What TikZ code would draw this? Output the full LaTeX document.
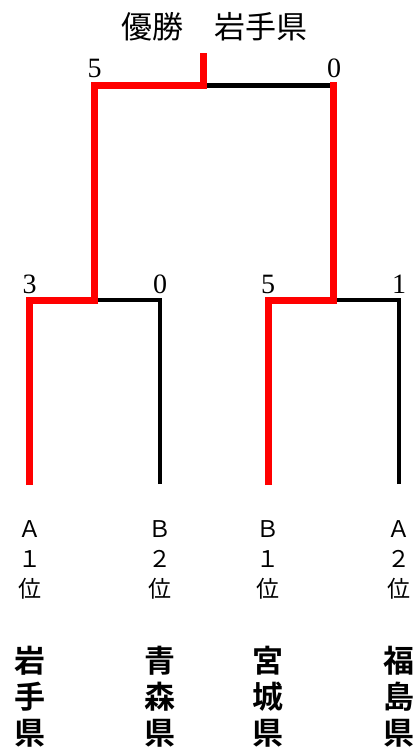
\documentclass[tikz,border=0pt]{standalone}
\usepackage{fontspec}
\setmainfont{Liberation Serif}
\newfontfamily\jp{Noto Sans CJK JP}[BoldFont={Noto Sans CJK JP Bold}]
\begin{document}
\begin{tikzpicture}[x=1pt,y=-1pt,
  winline/.style={red,line width=7pt,line join=miter,line cap=butt},
  loseline/.style={black,line width=4.7pt,line join=miter},
  score/.style={font=\fontsize{28}{28}\selectfont,anchor=base,inner sep=0pt},
  rank/.style={font=\jp\fontsize{23}{30}\selectfont,align=center,inner sep=0pt},
  pref/.style={font=\jp\bfseries\fontsize{31}{36}\selectfont,align=center,inner sep=0pt},
  title/.style={font=\jp\fontsize{31}{31}\selectfont,inner sep=0pt}]
\useasboundingbox (0,0) rectangle (418,751);
% coordinates
\coordinate (l1) at (29.5,485);
\coordinate (l2) at (160,484);
\coordinate (l3) at (268,485);
\coordinate (l4) at (399,484);
\coordinate (j1a) at (29.5,300);
\coordinate (j1b) at (160,300);
\coordinate (j2a) at (268,300);
\coordinate (j2b) at (399,300);
\coordinate (s1) at (94,300);
\coordinate (s2) at (333.5,300);
\coordinate (f1) at (94,85.5);
\coordinate (f2) at (333.5,85.5);
\coordinate (fm) at (203,85.5);
\coordinate (top) at (203,53);
% losing lines
\draw[loseline] (l2) -- (j1b) -- (s1);
\draw[loseline] (l4) -- (j2b) -- (s2);
\draw[loseline] (fm) -- (f2);
% winning lines
\draw[winline] (l1) -- (j1a) -- (s1) -- (f1) -- (fm) -- (top);
\draw[winline] (l3) -- (j2a) -- (s2) -- (333.5,82);
% scores
\node[score] (sc1) at (94.5,78) {5};
\node[score] (sc2) at (334,78) {0};
\node[score] (sc3) at (29.5,293) {3};
\node[score] (sc4) at (160,293) {0};
\node[score] (sc5) at (268,293) {5};
\node[score] (sc6) at (399,293) {1};
% title
\node[title] (ttl) at (214,27) {優勝　岩手県};
% ranks
\node[rank] (r1) at (29.5,560) {Ａ\\１\\位};
\node[rank] (r2) at (160,560) {Ｂ\\２\\位};
\node[rank] (r3) at (268,560) {Ｂ\\１\\位};
\node[rank] (r4) at (399,560) {Ａ\\２\\位};
% prefectures
\node[pref] (p1) at (29.5,697) {岩\\手\\県};
\node[pref] (p2) at (160,697) {青\\森\\県};
\node[pref] (p3) at (268,697) {宮\\城\\県};
\node[pref] (p4) at (399,697) {福\\島\\県};
\end{tikzpicture}
\end{document}
